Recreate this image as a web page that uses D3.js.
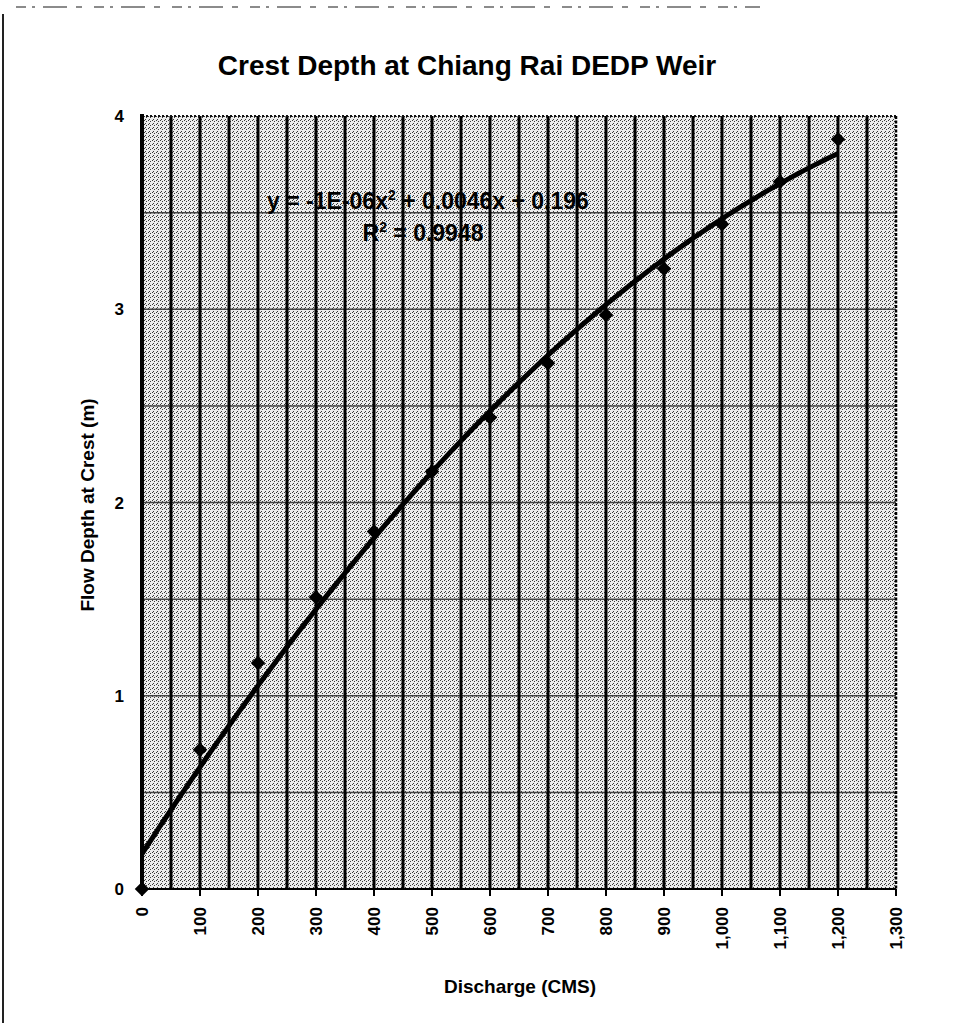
<!DOCTYPE html>
<html>
<head>
<meta charset="utf-8">
<script src="https://cdn.jsdelivr.net/npm/d3@7/dist/d3.min.js"></script>
<style>
html,body{margin:0;padding:0;background:#fff;}
svg{display:block;}
text{font-family:"Liberation Sans",Arial,sans-serif;font-weight:bold;fill:#000;}
</style>
</head>
<body>
<svg id="chart" width="953" height="1023"></svg>
<script>
// ---- data ----
const discharge = [0,100,200,300,400,500,600,700,800,900,1000,1100,1200];
const depth     = [0,0.72,1.17,1.51,1.85,2.16,2.44,2.72,2.97,3.21,3.44,3.66,3.88];
const xTicks = [0,100,200,300,400,500,600,700,800,900,1000,1100,1200,1300];
const yTicks = [0,1,2,3,4];
const titleText = "Crest Depth at Chiang Rai DEDP Weir";
const xLabel = "Discharge (CMS)";
const yLabel = "Flow Depth at Crest (m)";
const eqText = "y = -1E-06x";
const eqText2 = " + 0.0046x + 0.196";
const r2Text = " = 0.9948";

const svg = d3.select("#chart");
const x = d3.scaleLinear().domain([0,1300]).range([142,896]);
const y = d3.scaleLinear().domain([0,4]).range([889,116]);

// scan artifacts
svg.append("line").attr("x1",3).attr("x2",3).attr("y1",14).attr("y2",1023)
  .attr("stroke","#222").attr("stroke-width",2);
svg.append("line").attr("x1",16).attr("x2",760).attr("y1",7).attr("y2",7)
  .attr("stroke","#666").attr("stroke-width",1.5).attr("stroke-dasharray","10,6,3,8,24,9,6,12");

// stipple pattern
const defs = svg.append("defs");
const pat = defs.append("pattern").attr("id","stip").attr("patternUnits","userSpaceOnUse")
  .attr("width",4).attr("height",4);
pat.append("rect").attr("width",4).attr("height",4).attr("fill","#ececec");
[[0,0],[2,1],[1,3]].forEach(p=>pat.append("rect").attr("x",p[0]).attr("y",p[1])
  .attr("width",1).attr("height",1).attr("fill","#3a3a3a"));

svg.append("rect").attr("x",x(0)).attr("y",y(4)).attr("width",x(1300)-x(0)).attr("height",y(0)-y(4))
  .attr("fill","url(#stip)");

// horizontal gridlines every 0.5
const hg = d3.range(0.5,4,0.5);
svg.append("g").selectAll("line").data(hg).join("line")
  .attr("x1",x(0)).attr("x2",x(1300)).attr("y1",d=>y(d)).attr("y2",d=>y(d))
  .attr("stroke","#444").attr("stroke-width",1.5);

// vertical gridlines every 50
const vg = d3.range(50,1300,50);
svg.append("g").selectAll("line").data(vg).join("line")
  .attr("x1",d=>x(d)).attr("x2",d=>x(d)).attr("y1",y(4)).attr("y2",y(0))
  .attr("stroke","#000").attr("stroke-width",3);

// borders
svg.append("line").attr("x1",x(0)).attr("x2",x(1300)).attr("y1",y(4)).attr("y2",y(4))
  .attr("stroke","#111").attr("stroke-width",2).attr("stroke-dasharray","2,2");
svg.append("line").attr("x1",x(1300)).attr("x2",x(1300)).attr("y1",y(4)).attr("y2",y(0))
  .attr("stroke","#000").attr("stroke-width",2.5).attr("stroke-dasharray","3,1.5");
svg.append("line").attr("x1",x(0)).attr("x2",x(0)).attr("y1",y(4)-2).attr("y2",y(0))
  .attr("stroke","#000").attr("stroke-width",4);
svg.append("line").attr("x1",x(0)).attr("x2",x(1300)).attr("y1",y(0)).attr("y2",y(0))
  .attr("stroke","#000").attr("stroke-width",2);

// x ticks
svg.append("g").selectAll("line").data(xTicks).join("line")
  .attr("x1",d=>x(d)).attr("x2",d=>x(d)).attr("y1",y(0)).attr("y2",y(0)+7)
  .attr("stroke","#000").attr("stroke-width",2);
const fmt = d3.format(",");
svg.append("g").selectAll("text").data(xTicks).join("text")
  .attr("transform",d=>`translate(${x(d)+6},907) rotate(-90)`)
  .attr("text-anchor","end").style("font-size","17px")
  .text(d=>fmt(d));

// y ticks
svg.append("g").selectAll("text").data(yTicks).join("text")
  .attr("x",124).attr("y",d=>y(d)+6).attr("text-anchor","end")
  .style("font-size","17px")
  .text(d=>d);

// quadratic least-squares trendline from data
function quadFit(xs, ys){
  let S=[0,0,0,0,0], T=[0,0,0];
  xs.forEach((xv,i)=>{ for(let k=0;k<5;k++) S[k]+=Math.pow(xv,k); for(let k=0;k<3;k++) T[k]+=ys[i]*Math.pow(xv,k); });
  const A=[[S[0],S[1],S[2],T[0]],[S[1],S[2],S[3],T[1]],[S[2],S[3],S[4],T[2]]];
  for(let i=0;i<3;i++){ for(let j=i+1;j<3;j++){ const f=A[j][i]/A[i][i]; for(let k=i;k<4;k++) A[j][k]-=f*A[i][k]; } }
  const c=[0,0,0];
  for(let i=2;i>=0;i--){ let s=A[i][3]; for(let k=i+1;k<3;k++) s-=A[i][k]*c[k]; c[i]=s/A[i][i]; }
  return c;
}
const c = quadFit(discharge, depth);
const fitX = d3.range(0,1200.1,10);
svg.append("path").datum(fitX)
  .attr("d",d3.line().x(d=>x(d)).y(d=>y(c[0]+c[1]*d+c[2]*d*d)))
  .attr("fill","none").attr("stroke","#000").attr("stroke-width",5);

// diamonds (square rotated 45deg)
svg.append("g").selectAll("path").data(discharge).join("path")
  .attr("transform",(d,i)=>`translate(${x(d)},${y(depth[i])}) rotate(45)`)
  .attr("d",d3.symbol().type(d3.symbolSquare).size(105))
  .attr("fill","#000");

// equation
const eq = svg.append("text").attr("x",428).attr("y",209).attr("text-anchor","middle").style("font-size","23px");
eq.append("tspan").text(eqText);
eq.append("tspan").attr("dy",-9).style("font-size","14px").text("2");
eq.append("tspan").attr("dy",9).text(eqText2);
const r2 = svg.append("text").attr("x",423).attr("y",241).attr("text-anchor","middle").style("font-size","23px");
r2.append("tspan").text("R");
r2.append("tspan").attr("dy",-9).style("font-size","14px").text("2");
r2.append("tspan").attr("dy",9).text(r2Text);

// titles
svg.append("text").attr("x",467).attr("y",75).attr("text-anchor","middle").style("font-size","28px").text(titleText);
svg.append("text").attr("x",520).attr("y",993).attr("text-anchor","middle").style("font-size","19px").text(xLabel);
svg.append("text").attr("transform","translate(94,505) rotate(-90)").attr("text-anchor","middle")
  .style("font-size","19px").text(yLabel);
</script>
</body>
</html>
